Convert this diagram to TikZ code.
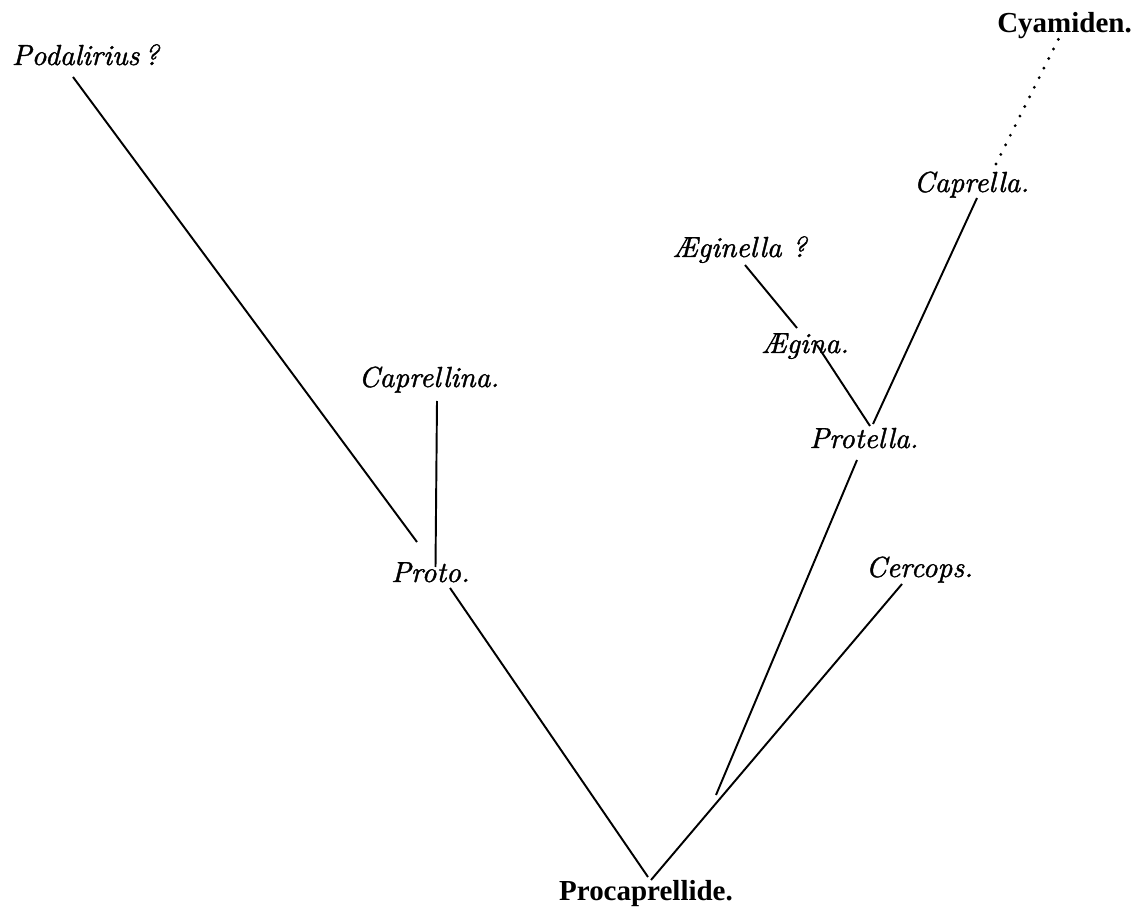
\documentclass[tikz,border=0pt]{standalone}
\usepackage{fontspec}
\newfontfamily\headfont{Liberation Serif}
\newfontfamily\labfont[FakeBold=1.3]{lmroman10-italic.otf}

\begin{document}
\begin{tikzpicture}[x=0.02cm,y=-0.02cm]
    \tikzstyle{every node}=[anchor=base,inner sep=0pt,font=\fontsize{16.5}{20}\selectfont\labfont];
    \tikzstyle{famname}=[font=\fontsize{16.5}{20}\selectfont\headfont\bfseries];
    \tikzstyle{branch}=[line width=1.1pt];
    \tikzstyle{guess}=[line width=1.8pt,line cap=round,dash pattern=on 0pt off 6.1pt];
    \useasboundingbox (0,0) rectangle (1142,908);
    \node (pod) at (85.5,65) {Podalirius\,?};
    \node[famname] (cya) at (1064.5,33) {Cyamiden.};
    \node (capa) at (971.5,192) {Caprella.};
    \node (aegl) at (739.5,257) {Æginella ?};
    \node (aeg) at (805,353) {Ægina.};
    \node (capl) at (429,387) {Caprellina.};
    \node (prot) at (864,448) {Protella.};
    \node (proto) at (430.5,582) {Proto.};
    \node (cerc) at (919.5,577) {Cercops.};
    \node[famname] (proc) at (646,900) {Procaprellide.};
    \coordinate (merge) at (716,795);
    \draw[branch] ([shift={(-12.5,12)}]pod.base) -- ([shift={(-13.5,-40)}]proto.base)
          ([shift={(8,14)}]capl.base) -- ([shift={(5,-15)}]proto.base)
          ([shift={(19.5,6)}]proto.base) -- ([shift={(2,-23)}]proc.base)
          ([shift={(-17.5,7)}]cerc.base) -- ([shift={(5,-20)}]proc.base)
          ([shift={(-7,12)}]prot.base) -- (merge)
          ([shift={(12,-8)}]aeg.base) -- ([shift={(6,-22)}]prot.base)
          ([shift={(5.5,6)}]capa.base) -- ([shift={(9,-24)}]prot.base)
          ([shift={(5.5,8)}]aegl.base) -- ([shift={(-8,-25)}]aeg.base);
    \draw[guess] ([shift={(24.5,-28)}]capa.base) -- ([shift={(-5.5,5)}]cya.base);
\end{tikzpicture}
\end{document}
